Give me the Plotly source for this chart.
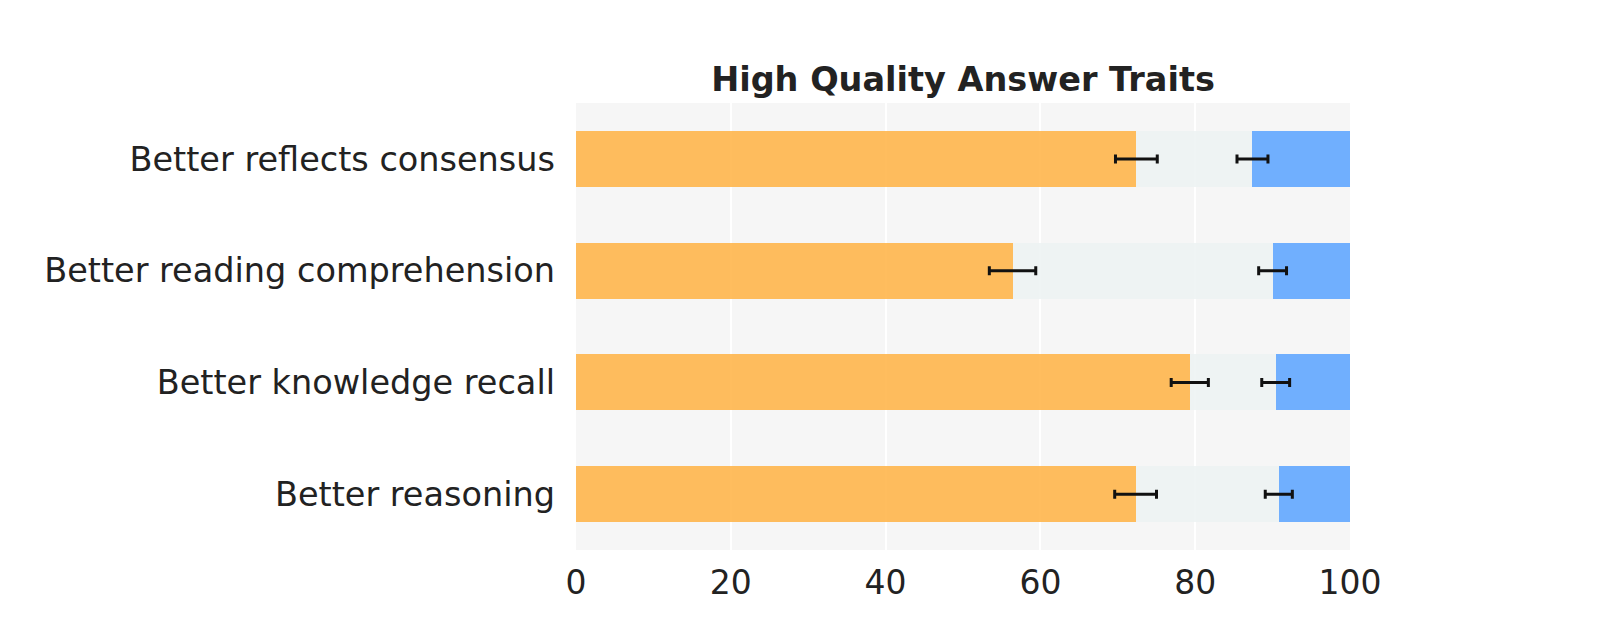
import plotly.graph_objects as go

categories = ["Better reflects consensus", "Better reading comprehension",
              "Better knowledge recall", "Better reasoning"]
first_share = [72.4, 56.4, 79.3, 72.3]
middle_share = [15.0, 33.6, 11.1, 18.5]
last_share = [12.6, 10.0, 9.6, 9.2]
first_err = [2.7, 3.0, 2.4, 2.7]
middle_err = [2.0, 1.8, 1.8, 1.75]
x_ticks = [0, 20, 40, 60, 80, 100]

FONT = "DejaVu Sans"
TXT = "#222222"

err_style = dict(type="data", thickness=3, width=4.5, color="#111111")

first_end = first_share
middle_end = [a + b for a, b in zip(first_share, middle_share)]

fig = go.Figure()
fig.add_trace(go.Bar(y=categories, x=first_share, orientation="h",
                     marker=dict(color="#FFB64D", opacity=0.9, line=dict(width=0)),
                     showlegend=False))
fig.add_trace(go.Bar(y=categories, x=middle_share, orientation="h",
                     marker=dict(color="#EDF3F3", opacity=0.9, line=dict(width=0)),
                     showlegend=False))
fig.add_trace(go.Bar(y=categories, x=last_share, orientation="h",
                     marker=dict(color="#62A7FF", opacity=0.9, line=dict(width=0)),
                     showlegend=False))
# error bars drawn on top of all stacked segments
fig.add_trace(go.Scatter(y=categories, x=first_end, mode="markers",
                         marker=dict(size=1, opacity=0),
                         error_x=dict(array=first_err, **err_style), showlegend=False))
fig.add_trace(go.Scatter(y=categories, x=middle_end, mode="markers",
                         marker=dict(size=1, opacity=0),
                         error_x=dict(array=middle_err, **err_style), showlegend=False))

fig.update_layout(
    width=1600, height=639,
    barmode="stack", bargap=0.5,
    paper_bgcolor="white", plot_bgcolor="#F6F6F6",
    margin=dict(l=568, r=258, t=95, b=97),
    font=dict(family=FONT, color=TXT, size=33.5),
    title=dict(text="<b>High Quality Answer Traits</b>", x=0.5, xref="paper",
               y=1, yref="paper", yanchor="bottom", xanchor="center",
               pad=dict(b=12), font=dict(family=FONT, size=33.5, color=TXT)),
    xaxis=dict(range=[0, 100], tickvals=x_ticks, showgrid=True, gridcolor="white",
               gridwidth=2, zeroline=False, showline=False, ticks="",
               ticklabelstandoff=10, tickfont=dict(size=33, color=TXT)),
    yaxis=dict(categoryorder="array", categoryarray=categories, range=[3.5, -0.5],
               showgrid=False, zeroline=False, showline=False, ticks="",
               ticklabelstandoff=20, tickfont=dict(size=33.5, color=TXT)),
)

fig.write_html("out.html")
